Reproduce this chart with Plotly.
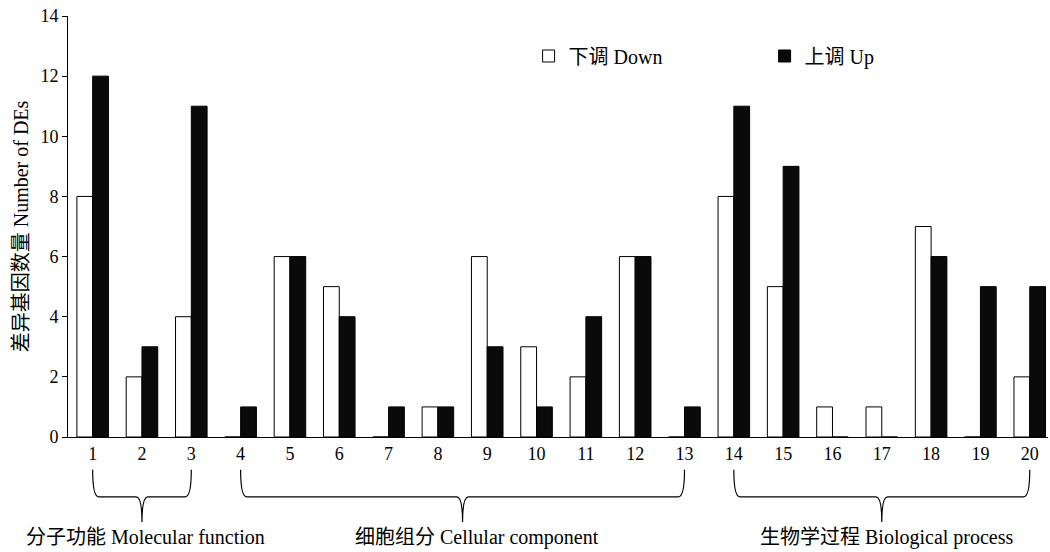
import plotly.graph_objects as go

categories = list(range(1, 21))
down_values = [8, 2, 4, 0, 6, 5, 0, 1, 6, 3, 2, 6, 0, 8, 5, 1, 1, 7, 0, 2]
up_values = [12, 3, 11, 1, 6, 4, 1, 1, 3, 1, 4, 6, 1, 11, 9, 0, 0, 6, 5, 5]
group_labels = ["分子功能 Molecular function", "细胞组分 Cellular component", "生物学过程 Biological process"]
group_spans = [(1, 3), (4, 13), (14, 20)]
y_ticks = [0, 2, 4, 6, 8, 10, 12, 14]

FONT = "Liberation Serif, Times New Roman, Noto Sans CJK SC, serif"

fig = go.Figure()
fig.add_trace(go.Bar(
    x=categories, y=down_values, name="下调 Down",
    marker=dict(color="white", line=dict(color="black", width=1)),
))
fig.add_trace(go.Bar(
    x=categories, y=up_values, name="上调 Up",
    marker=dict(color="#0a0a0a", line=dict(color="black", width=1)),
))

# braces
yt, ym, yb = -0.078, -0.142, -0.202
r = 0.12
label_shifts = [4, 14, 5]
for (a, b), label, sh in zip(group_spans, group_labels, label_shifts):
    c = (a + b) / 2
    path = (f"M{a},{yt} Q{a},{ym} {a + r},{ym} L{c - r},{ym} Q{c},{ym} {c},{yb} "
            f"Q{c},{ym} {c + r},{ym} L{b - r},{ym} Q{b},{ym} {b},{yt}")
    fig.add_shape(type="path", path=path, xref="x", yref="paper",
                  line=dict(color="black", width=1.2))
    fig.add_annotation(x=c, y=-0.238, xref="x", yref="paper", text=label,
                       showarrow=False, xanchor="center", yanchor="middle", xshift=sh,
                       font=dict(family=FONT, size=20, color="black"))

fig.update_layout(
    width=1050, height=552,
    margin=dict(l=68, r=2, t=16, b=115),
    paper_bgcolor="white", plot_bgcolor="white",
    barmode="group", bargap=0.36, bargroupgap=0,
    font=dict(family=FONT, size=18, color="black"),
    showlegend=True,
    legend=dict(orientation="h", x=0.47, y=0.905, xanchor="left", yanchor="middle",
                entrywidth=191, entrywidthmode="pixels",
                font=dict(family=FONT, size=20, color="black"),
                bgcolor="rgba(0,0,0,0)"),
    xaxis=dict(range=[0.5, 20.37], tickmode="array", tickvals=categories,
               ticktext=[str(c) for c in categories], showline=True, linecolor="black",
               linewidth=1, ticks="", showgrid=False, zeroline=False,
               tickfont=dict(family=FONT, size=18, color="black")),
    yaxis=dict(range=[0, 14], tickmode="array", tickvals=y_ticks, showline=True,
               linecolor="black", linewidth=1, ticks="outside", ticklen=5,
               tickcolor="black", showgrid=False, zeroline=False,
               tickfont=dict(family=FONT, size=18, color="black"),
               title=dict(text="差异基因数量 Number of DEs", standoff=6,
                          font=dict(family=FONT, size=20, color="black"))),
)

fig.write_html("out.html")
